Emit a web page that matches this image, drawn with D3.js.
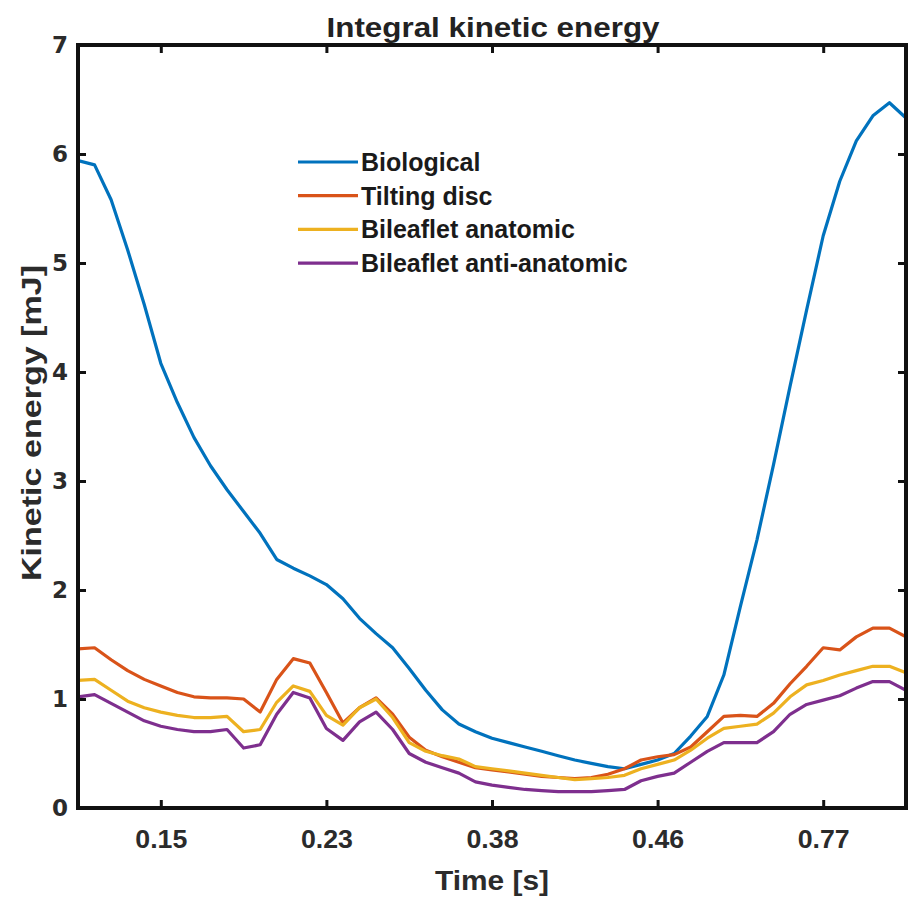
<!DOCTYPE html>
<html>
<head>
<meta charset="utf-8">
<script src="https://cdn.jsdelivr.net/npm/d3@7"></script>
<style>
  body { margin: 0; background: #fff; }
  svg { display: block; }
</style>
</head>
<body>
<svg id="chart" width="913" height="902"></svg>
<script>
// sample position along the time axis (axis units, ticks sit on odd positions)
const samplePos = [0, 0.2, 0.4, 0.6, 0.8, 1, 1.2, 1.4, 1.6, 1.8, 2, 2.2, 2.4, 2.6, 2.8, 3, 3.2, 3.4, 3.6, 3.8,
  4, 4.2, 4.4, 4.6, 4.8, 5, 5.2, 5.4, 5.6, 5.8, 6, 6.2, 6.4, 6.6, 6.8, 7, 7.2, 7.4, 7.6, 7.8,
  8, 8.2, 8.4, 8.6, 8.8, 9, 9.2, 9.4, 9.6, 9.8, 10];

const biological = [5.94, 5.9, 5.58, 5.12, 4.62, 4.08, 3.72, 3.4, 3.14, 2.92, 2.72, 2.52, 2.28, 2.2, 2.13, 2.05, 1.92, 1.74, 1.6, 1.47,
  1.28, 1.08, 0.9, 0.77, 0.7, 0.64, 0.6, 0.56, 0.52, 0.48, 0.44, 0.41, 0.38, 0.36, 0.4, 0.44, 0.5, 0.66, 0.84, 1.22,
  1.85, 2.46, 3.15, 3.87, 4.57, 5.25, 5.75, 6.12, 6.35, 6.47, 6.33];

const tiltingDisc = [1.46, 1.47, 1.36, 1.26, 1.18, 1.12, 1.06, 1.02, 1.01, 1.01, 1.0, 0.88, 1.18, 1.37, 1.33, 1.06, 0.78, 0.92, 1.01, 0.86,
  0.65, 0.53, 0.47, 0.42, 0.37, 0.35, 0.33, 0.31, 0.29, 0.28, 0.27, 0.28, 0.31, 0.36, 0.44, 0.47, 0.49, 0.56, 0.7, 0.84,
  0.85, 0.84, 0.96, 1.14, 1.3, 1.47, 1.45, 1.57, 1.65, 1.65, 1.57];

const bileafletAnatomic = [1.17, 1.18, 1.08, 0.98, 0.92, 0.88, 0.85, 0.83, 0.83, 0.84, 0.7, 0.72, 0.97, 1.12, 1.07, 0.85, 0.76, 0.92, 1.0, 0.83,
  0.6, 0.52, 0.48, 0.45, 0.38, 0.36, 0.34, 0.32, 0.3, 0.28, 0.26, 0.27, 0.28, 0.3, 0.36, 0.4, 0.44, 0.53, 0.64, 0.73,
  0.75, 0.77, 0.87, 1.02, 1.13, 1.17, 1.22, 1.26, 1.3, 1.3, 1.24];

const bileafletAntiAnatomic = [1.02, 1.04, 0.96, 0.88, 0.8, 0.75, 0.72, 0.7, 0.7, 0.72, 0.55, 0.58, 0.86, 1.06, 1.01, 0.73, 0.62, 0.79, 0.88, 0.72,
  0.5, 0.42, 0.37, 0.32, 0.24, 0.21, 0.19, 0.17, 0.16, 0.15, 0.15, 0.15, 0.16, 0.17, 0.25, 0.29, 0.32, 0.42, 0.52, 0.6,
  0.6, 0.6, 0.7, 0.86, 0.95, 0.99, 1.03, 1.1, 1.16, 1.16, 1.08];

const seriesNames = ["Biological", "Tilting disc", "Bileaflet anatomic", "Bileaflet anti-anatomic"];
const seriesColors = ["#0072BD", "#D95319", "#EDB120", "#7E2F8E"];

const xTickPos = [1, 3, 5, 7, 9];
const xTickLabels = ["0.15", "0.23", "0.38", "0.46", "0.77"];
const yTicks = [0, 1, 2, 3, 4, 5, 6, 7];

const svg = d3.select("#chart");

// plot box in page pixels
const margin = { top: 45, right: 7, bottom: 94, left: 78 },
    width = 913 - margin.left - margin.right,
    height = 902 - margin.top - margin.bottom;

const chart = svg.append("g")
    .attr("transform", `translate(${margin.left},${margin.top})`);

const x = d3.scaleLinear().domain([0, 10]).range([0, width]);
const y = d3.scaleLinear().domain([0, 7]).range([height, 0]);

svg.append("defs").append("clipPath").attr("id", "plotclip")
  .append("rect").attr("x", 0).attr("y", 0).attr("width", width).attr("height", height);

// lines
const allSeries = [biological, tiltingDisc, bileafletAnatomic, bileafletAntiAnatomic];
const line = d3.line()
    .x((d, i) => x(samplePos[i]))
    .y(d => y(d));

chart.append("g")
    .attr("clip-path", "url(#plotclip)")
    .selectAll("path")
    .data(allSeries)
    .enter()
    .append("path")
    .attr("d", d => line(d))
    .attr("fill", "none")
    .attr("stroke", (d, i) => seriesColors[i])
    .attr("stroke-width", 3.2)
    .attr("stroke-linejoin", "round");

// axes, ticks pointing inward on all four sides
const tickLen = 8;
const axisStyle = g => {
    g.select(".domain").remove();
    g.selectAll(".tick line").attr("stroke", "#111").attr("stroke-width", 3);
};

chart.append("g")
    .attr("transform", `translate(0,${height})`)
    .call(d3.axisBottom(x).tickValues(xTickPos).tickSize(-tickLen)
        .tickFormat((d, i) => xTickLabels[i]).tickPadding(22))
    .call(axisStyle)
    .selectAll("text")
    .attr("textLength", 52).attr("lengthAdjust", "spacingAndGlyphs")
    .style("font-size", "26px")
    .style("font-weight", "bold")
    .style("font-family", "'Liberation Sans', Arial, sans-serif")
    .attr("fill", "#2b2b2b");

chart.append("g")
    .call(d3.axisTop(x).tickValues(xTickPos).tickSize(-tickLen).tickFormat(""))
    .call(axisStyle);

chart.append("g")
    .call(d3.axisLeft(y).tickValues(yTicks).tickSize(-tickLen).tickPadding(10)
        .tickFormat(d3.format("d")))
    .call(axisStyle)
    .selectAll("text")
    .style("font-size", "23px")
    .style("font-weight", "bold")
    .style("font-family", "'DejaVu Sans', Arial, sans-serif")
    .attr("fill", "#2b2b2b");

chart.append("g")
    .attr("transform", `translate(${width},0)`)
    .call(d3.axisRight(y).tickValues(yTicks).tickSize(-tickLen).tickFormat(""))
    .call(axisStyle);

// box
chart.append("rect")
    .attr("x", 0).attr("y", 0)
    .attr("width", width).attr("height", height)
    .attr("fill", "none")
    .attr("stroke", "#111")
    .attr("stroke-width", 4);

// title and axis labels
svg.append("text")
    .attr("x", 493).attr("y", 37)
    .attr("text-anchor", "middle")
    .attr("textLength", 333).attr("lengthAdjust", "spacingAndGlyphs")
    .style("font-size", "28px")
    .style("font-weight", "bold")
    .style("font-family", "'Liberation Sans', Arial, sans-serif")
    .attr("fill", "#222")
    .text("Integral kinetic energy");

svg.append("text")
    .attr("x", 492).attr("y", 890)
    .attr("text-anchor", "middle")
    .attr("textLength", 114).attr("lengthAdjust", "spacingAndGlyphs")
    .style("font-size", "28px")
    .style("font-weight", "bold")
    .style("font-family", "'Liberation Sans', Arial, sans-serif")
    .attr("fill", "#2b2b2b")
    .text("Time [s]");

svg.append("text")
    .attr("transform", "translate(41,423) rotate(-90)")
    .attr("text-anchor", "middle")
    .attr("textLength", 316).attr("lengthAdjust", "spacingAndGlyphs")
    .style("font-size", "28px")
    .style("font-weight", "bold")
    .style("font-family", "'Liberation Sans', Arial, sans-serif")
    .attr("fill", "#2b2b2b")
    .text("Kinetic energy [mJ]");

// legend
const legend = svg.append("g").attr("transform", "translate(298,162)");
const rowH = 33.7;
seriesNames.forEach((name, i) => {
    legend.append("line")
        .attr("x1", 0).attr("x2", 60)
        .attr("y1", i * rowH).attr("y2", i * rowH)
        .attr("stroke", seriesColors[i])
        .attr("stroke-width", 3.2);
    legend.append("text")
        .attr("x", 63).attr("y", i * rowH)
        .attr("dy", "0.36em")
        .style("font-size", "25px")
        .style("font-weight", "bold")
        .style("font-family", "'Liberation Sans', Arial, sans-serif")
        .attr("fill", "#1a1a1a")
        .text(name);
});
</script>
</body>
</html>
